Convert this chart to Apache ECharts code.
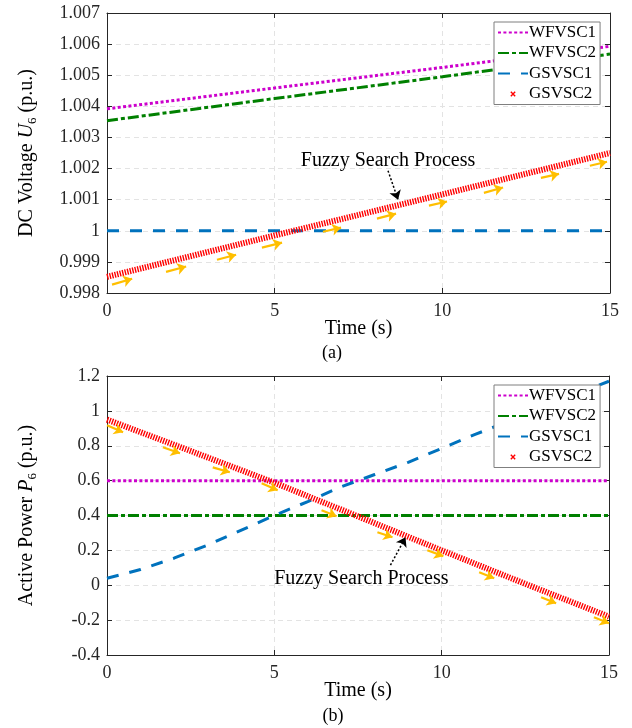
<!DOCTYPE html>
<html>
<head>
<meta charset="utf-8">
<script src="https://cdn.jsdelivr.net/npm/echarts@6/dist/echarts.min.js"></script>
<style>
  html, body { margin: 0; padding: 0; background: #ffffff; }
  #chart { width: 632px; height: 728px; }
</style>
</head>
<body>
<div id="chart"></div>
<script>
// ---- (a) DC voltage of bus 6 ----
const timeA = [0, 5, 10, 15];
const wfvsc1A = [1.00392, 1.00459, 1.00525, 1.00593];
const wfvsc2A = [1.00354, 1.00425, 1.00495, 1.00568];
const gsvsc1A = [1.0000, 1.0000, 1.0000, 1.0000];
const gsvsc2A = [0.99852, 0.99985, 1.00117, 1.00250];

// ---- (b) active power of bus 6 ----
const timeB = [0, 2.5, 5, 7.5, 10, 12.5, 15];
const wfvsc1B = [0.6, 0.6, 0.6, 0.6, 0.6, 0.6, 0.6];
const wfvsc2B = [0.4, 0.4, 0.4, 0.4, 0.4, 0.4, 0.4];
const timeGsB = [0, 1, 2, 3, 4, 5, 6, 7, 8, 9, 10, 11, 12, 13, 14, 15];
const gsvsc1B = [0.04, 0.09, 0.155, 0.23, 0.315, 0.40, 0.48, 0.565, 0.635, 0.705, 0.785, 0.865, 0.94, 1.015, 1.095, 1.17];
const gsvsc2B = [0.95, 0.77, 0.588, 0.395, 0.20, 0.008, -0.18];

// search-step arrows: [t start, value start, t end, value end]
const stepsA = [
  [0.15, 0.99827, 0.75, 0.99846], [1.76, 0.99868, 2.36, 0.99885],
  [3.28, 0.99907, 3.85, 0.99923], [4.62, 0.99946, 5.22, 0.99962],
  [6.44, 0.99997, 6.98, 1.00010], [8.05, 1.00039, 8.62, 1.00055],
  [9.60, 1.00081, 10.14, 1.00094], [11.24, 1.00122, 11.81, 1.00139],
  [12.94, 1.00170, 13.48, 1.00183], [14.40, 1.00209, 14.91, 1.00222]
];
const stepsB = [
  [0.00, 0.917, 0.48, 0.877], [1.67, 0.791, 2.18, 0.757],
  [3.16, 0.676, 3.67, 0.648], [4.62, 0.585, 5.10, 0.545],
  [6.41, 0.430, 6.86, 0.396], [8.08, 0.304, 8.53, 0.275],
  [9.57, 0.201, 10.05, 0.167], [11.12, 0.074, 11.57, 0.040],
  [12.97, -0.069, 13.42, -0.103], [14.55, -0.183, 15.00, -0.218]
];

// annotation text anchor and pointer [t, v] / [t0, v0, t1, v1]
const noteText = 'Fuzzy Search Process';
const noteA = [8.38, 1.00226];
const pointerA = [8.38, 1.00193, 8.68, 1.00100];
const noteB = [7.6, 0.04];
const pointerB = [8.47, 0.115, 8.92, 0.275];

const seriesNames = ['WFVSC1', 'WFVSC2', 'GSVSC1', 'GSVSC2'];
const xTicks = { min: 0, max: 15, interval: 5 };

const FONT = '"Liberation Serif", "Times New Roman", serif';
const INK = '#262626';
const COLORS = { wf1: '#cc00cc', wf2: '#008000', gs1: '#0072bd', gs2: '#ff0000', step: '#ffbf00' };

const zip = (xs, ys) => xs.map((x, i) => [x, ys[i]]);

function xAxisPair(gridIndex) {
  const base = {
    type: 'value', gridIndex, min: xTicks.min, max: xTicks.max, interval: xTicks.interval,
    axisLine: { show: true, onZero: false, lineStyle: { color: INK, width: 1 } },
    axisTick: { show: true, inside: true, length: 5, lineStyle: { color: INK, width: 1 } },
    minorTick: { show: false }
  };
  return [
    Object.assign({}, base, {
      position: 'bottom',
      axisLabel: { show: true, margin: 9, fontFamily: FONT, fontSize: 18, color: INK },
      splitLine: { show: true, lineStyle: { color: '#e3e3e3', width: 1, type: [5, 4] } },
      name: 'Time (s)', nameLocation: 'middle', nameGap: 26, nameMoveOverlap: false,
      nameTextStyle: { fontFamily: FONT, fontSize: 20, color: '#000' }
    }),
    Object.assign({}, base, {
      position: 'top',
      axisLabel: { show: false }, splitLine: { show: false }
    })
  ];
}

function yAxisPair(gridIndex, min, max, interval, fmt, nameRich) {
  const base = {
    type: 'value', gridIndex, min, max, interval, scale: true,
    axisLine: { show: true, onZero: false, lineStyle: { color: INK, width: 1 } },
    axisTick: { show: true, inside: true, length: 5, lineStyle: { color: INK, width: 1 } }
  };
  return [
    Object.assign({}, base, {
      position: 'left',
      axisLabel: { show: true, margin: 7, fontFamily: FONT, fontSize: 18, color: INK, formatter: fmt },
      splitLine: { show: true, lineStyle: { color: '#e3e3e3', width: 1, type: [5, 4] } },
      name: nameRich, nameLocation: 'middle', nameGap: 68, nameMoveOverlap: false,
      nameTextStyle: {
        fontFamily: FONT, fontSize: 20, color: '#000',
        rich: {
          n: { fontFamily: FONT, fontSize: 20, lineHeight: 24, color: '#000' },
          i: { fontFamily: FONT, fontSize: 20, lineHeight: 24, fontStyle: 'italic', color: '#000' },
          s: { fontFamily: FONT, fontSize: 13, lineHeight: 14, verticalAlign: 'bottom', color: '#000' }
        }
      }
    }),
    Object.assign({}, base, {
      position: 'right',
      axisLabel: { show: false }, splitLine: { show: false }
    })
  ];
}

function stepLines(steps) {
  return steps.map(s => [{ coord: [s[0], s[1]] }, { coord: [s[2], s[3]] }]);
}

function markers(steps, pointer, note) {
  return {
    markLine: {
      silent: true, animation: false,
      symbol: ['none', 'arrow'], symbolSize: 9,
      label: { show: false },
      emphasis: { disabled: true },
      lineStyle: { color: COLORS.step, width: 2.2, type: 'solid' },
      data: stepLines(steps).concat([[
        { coord: [pointer[0], pointer[1]], lineStyle: { color: '#000', width: 1.5, type: [2, 2] } },
        { coord: [pointer[2], pointer[3]] }
      ]])
    },
    markPoint: {
      silent: true, animation: false,
      symbol: 'circle', symbolSize: 0,
      itemStyle: { color: 'rgba(0,0,0,0)' },
      label: { show: true, position: 'inside', formatter: noteText, fontFamily: FONT, fontSize: 20, color: '#000' },
      data: [{ coord: note }]
    }
  };
}

function seriesSet(xi, yi, d) {
  const common = { type: 'line', xAxisIndex: xi, yAxisIndex: yi, symbol: 'none', showSymbol: false, animation: false, emphasis: { disabled: true }, z: 3 };
  return [
    Object.assign({}, common, { name: seriesNames[0], data: d.wf1, color: COLORS.wf1, lineStyle: { color: COLORS.wf1, width: 3, type: [3, 2.4] } }),
    Object.assign({}, common, { name: seriesNames[1], data: d.wf2, color: COLORS.wf2, lineStyle: { color: COLORS.wf2, width: 3, type: [11, 3, 4, 3] } }),
    Object.assign({}, common, { name: seriesNames[2], data: d.gs1, color: COLORS.gs1, lineStyle: { color: COLORS.gs1, width: 3, type: [12, 11] } }),
    Object.assign({}, common, { name: seriesNames[3], data: d.gs2, color: COLORS.gs2, lineStyle: { color: COLORS.gs2, width: 6, type: [1.4, 1.2] } },
      markers(d.steps, d.pointer, d.note))
  ];
}

function legendAt(left, top) {
  return {
    show: true, orient: 'vertical', left, top,
    padding: [2, 4, 2, 3], itemGap: 3.5, itemWidth: 30, itemHeight: 14,
    backgroundColor: '#ffffff', borderColor: '#7f7f7f', borderWidth: 1, borderRadius: 0,
    selectedMode: false,
    textStyle: { fontFamily: FONT, fontSize: 17, lineHeight: 17, color: '#000', padding: [0, 0, 0, -4] },
    itemStyle: { opacity: 0 },
    data: [
      seriesNames[0], seriesNames[1], seriesNames[2],
      {
        name: seriesNames[3],
        icon: 'path://M0 0M16 16M5.5 5.5L10.5 10.5M10.5 5.5L5.5 10.5',
        itemStyle: { opacity: 1, color: 'rgba(0,0,0,0)', borderColor: COLORS.gs2, borderWidth: 1.4 }
      }
    ]
  };
}

const fmtA = v => (Math.abs(v - 1) < 1e-9 ? '1' : v.toFixed(3));
const fmtB = v => String(parseFloat(v.toFixed(1)));

const xa = xAxisPair(0), xb = xAxisPair(1);
const ya = yAxisPair(0, 0.998, 1.007, 0.001, fmtA, '{n|DC Voltage }{i|U}{s|6}{n| (p.u.)}');
const yb = yAxisPair(1, -0.4, 1.2, 0.2, fmtB, '{n|Active Power }{i|P}{s|6}{n| (p.u.)}');

const option = {
  animation: false,
  backgroundColor: '#ffffff',
  textStyle: { fontFamily: FONT },
  grid: [
    { left: 107, top: 13, width: 503, height: 280, containLabel: false, show: false },
    { left: 107, top: 376, width: 502, height: 279, containLabel: false, show: false }
  ],
  xAxis: [xa[0], xa[1], xb[0], xb[1]],
  yAxis: [ya[0], ya[1], yb[0], yb[1]],
  legend: [legendAt(494, 22), legendAt(494, 385)],
  graphic: [
    { type: 'text', x: 332, y: 353, style: { text: '(a)', font: '18px ' + FONT, fill: '#000', align: 'center', verticalAlign: 'middle' } },
    { type: 'text', x: 333, y: 716, style: { text: '(b)', font: '18px ' + FONT, fill: '#000', align: 'center', verticalAlign: 'middle' } }
  ],
  series: [].concat(
    seriesSet(0, 0, {
      wf1: zip(timeA, wfvsc1A), wf2: zip(timeA, wfvsc2A), gs1: zip(timeA, gsvsc1A), gs2: zip(timeA, gsvsc2A),
      steps: stepsA, pointer: pointerA, note: noteA
    }),
    seriesSet(2, 2, {
      wf1: zip(timeB, wfvsc1B), wf2: zip(timeB, wfvsc2B), gs1: zip(timeGsB, gsvsc1B), gs2: zip(timeB, gsvsc2B),
      steps: stepsB, pointer: pointerB, note: noteB
    })
  )
};

const chart = echarts.init(document.getElementById('chart'), null, { renderer: 'canvas' });
chart.setOption(option);
</script>
</body>
</html>
